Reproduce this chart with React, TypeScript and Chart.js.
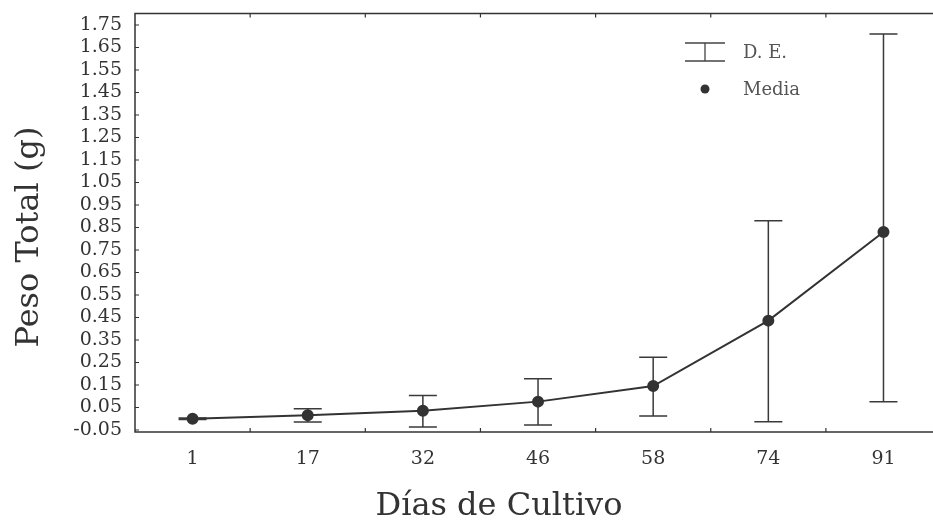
import { useEffect, useRef } from "react";
import { Chart, registerables } from "chart.js";

Chart.register(...registerables);

// ---- data ----
const days = ["1", "17", "32", "46", "58", "74", "91"];
const means = [0.0, 0.015, 0.035, 0.076, 0.145, 0.436, 0.83];
const sdUpper = [0.003, 0.029, 0.068, 0.102, 0.128, 0.444, 0.88];
const sdLower = [0.003, 0.029, 0.072, 0.104, 0.133, 0.449, 0.754];
const yTicks = [
  -0.05, 0.05, 0.15, 0.25, 0.35, 0.45, 0.55, 0.65, 0.75, 0.85, 0.95, 1.05,
  1.15, 1.25, 1.35, 1.45, 1.55, 1.65, 1.75,
];
const xTitle = "Días de Cultivo";
const yTitle = "Peso Total (g)";
const legendLabels = ["D. E.", "Media"];

const FONT = "'DejaVu Serif', 'Liberation Serif', serif";
const INK = "#333333";

const decorPlugin = {
  id: "decor",
  beforeDatasetsDraw(chart: any) {
    const ctx = chart.ctx;
    const x = chart.scales.x;
    const y = chart.scales.y;
    ctx.save();
    ctx.strokeStyle = "#3a3a3a";
    ctx.lineWidth = 1.5;
    const cap = 14;
    means.forEach((m, i) => {
      const px = x.getPixelForValue(i);
      const top = y.getPixelForValue(m + sdUpper[i]);
      const bot = y.getPixelForValue(m - sdLower[i]);
      ctx.beginPath();
      ctx.moveTo(px, top);
      ctx.lineTo(px, bot);
      ctx.moveTo(px - cap, top);
      ctx.lineTo(px + cap, top);
      ctx.moveTo(px - cap, bot);
      ctx.lineTo(px + cap, bot);
      ctx.stroke();
    });
    ctx.restore();
  },
  afterDraw(chart: any) {
    const ctx = chart.ctx;
    const a = chart.chartArea;
    const x = chart.scales.x;
    const y = chart.scales.y;
    ctx.save();
    ctx.strokeStyle = INK;
    ctx.lineWidth = 1.5;
    // frame
    ctx.beginPath();
    ctx.moveTo(a.right, a.top);
    ctx.lineTo(a.left, a.top);
    ctx.lineTo(a.left, a.bottom);
    ctx.lineTo(a.right, a.bottom);
    ctx.stroke();
    // inward ticks
    ctx.lineWidth = 1.2;
    ctx.beginPath();
    yTicks.forEach((v) => {
      const py = y.getPixelForValue(v);
      ctx.moveTo(a.left, py);
      ctx.lineTo(a.left + 4, py);
    });
    for (let i = 0; i < days.length; i++) {
      const px = x.getPixelForValue(i + 0.5);
      if (px > a.right) continue;
      ctx.moveTo(px, a.bottom);
      ctx.lineTo(px, a.bottom - 4);
      ctx.moveTo(px, a.top);
      ctx.lineTo(px, a.top + 4);
    }
    ctx.stroke();

    // legend
    ctx.strokeStyle = "#444";
    ctx.lineWidth = 1.3;
    ctx.beginPath();
    ctx.moveTo(685, 43);
    ctx.lineTo(725, 43);
    ctx.moveTo(685, 61);
    ctx.lineTo(725, 61);
    ctx.moveTo(705, 43);
    ctx.lineTo(705, 61);
    ctx.stroke();
    ctx.fillStyle = INK;
    ctx.beginPath();
    ctx.arc(705, 89, 4.5, 0, Math.PI * 2);
    ctx.fill();
    ctx.fillStyle = "#555";
    ctx.font = `18px ${FONT}`;
    ctx.textBaseline = "middle";
    ctx.textAlign = "left";
    ctx.fillText(legendLabels[0], 743, 53);
    ctx.fillText(legendLabels[1], 743, 90);

    // axis titles
    ctx.fillStyle = INK;
    ctx.font = `32px ${FONT}`;
    ctx.textAlign = "center";
    ctx.textBaseline = "alphabetic";
    ctx.fillText(xTitle, 499, 515);
    ctx.translate(38, 237);
    ctx.rotate(-Math.PI / 2);
    ctx.font = `32px ${FONT}`;
    ctx.fillText(yTitle, 0, 0);
    ctx.restore();
  },
};

export default function App() {
  const ref = useRef<HTMLCanvasElement | null>(null);
  useEffect(() => {
    if (!ref.current) return;
    const chart = new Chart(ref.current, {
      type: "line",
      data: {
        datasets: [
          {
            label: legendLabels[1],
            data: means.map((m, i) => ({ x: i, y: m })),
            borderColor: INK,
            backgroundColor: INK,
            borderWidth: 2,
            pointRadius: 5,
            pointBackgroundColor: INK,
            pointBorderColor: INK,
            tension: 0,
          },
        ],
      },
      options: {
        responsive: false,
        animation: false,
        layout: { autoPadding: false, padding: { top: 13.5, right: 0, left: 0, bottom: 0 } },
        plugins: { legend: { display: false }, tooltip: { enabled: false } },
        scales: {
          x: {
            type: "linear",
            min: -0.5,
            max: 6.43,
            afterBuildTicks: (s: any) => {
              s.ticks = days.map((_, i) => ({ value: i }));
            },
            afterFit: (s: any) => {
              s.height = 523 - 432;
              s.paddingLeft = 0;
              s.paddingRight = 0;
              s.paddingTop = 0;
              s.paddingBottom = 0;
            },
            grid: { display: true, drawOnChartArea: false, drawTicks: false, color: "transparent" },
            border: { display: false },
            ticks: {
              autoSkip: false,
              maxRotation: 0,
              padding: 16,
              color: INK,
              font: { family: FONT, size: 19 },
              callback: (v: any) => days[v as number] ?? "",
            },
          },
          y: {
            min: -0.059,
            max: 1.801,
            afterBuildTicks: (s: any) => {
              s.ticks = yTicks.map((v) => ({ value: v }));
            },
            afterFit: (s: any) => {
              s.width = 135;
              s.paddingLeft = 0;
              s.paddingRight = 0;
              s.paddingTop = 0;
              s.paddingBottom = 0;
            },
            grid: { display: true, drawOnChartArea: false, drawTicks: false, color: "transparent" },
            border: { display: false },
            ticks: {
              autoSkip: false,
              padding: 13,
              color: INK,
              font: { family: FONT, size: 19 },
              callback: (v: any) => Number(v).toFixed(2),
            },
          },
        },
      },
      plugins: [decorPlugin],
    });
    return () => chart.destroy();
  }, []);
  return (
    <div style={{ position: "fixed", left: 0, top: 0, width: 933, height: 523, background: "#fff" }}>
      <canvas ref={ref} width={933} height={523} style={{ display: "block" }} />
    </div>
  );
}
